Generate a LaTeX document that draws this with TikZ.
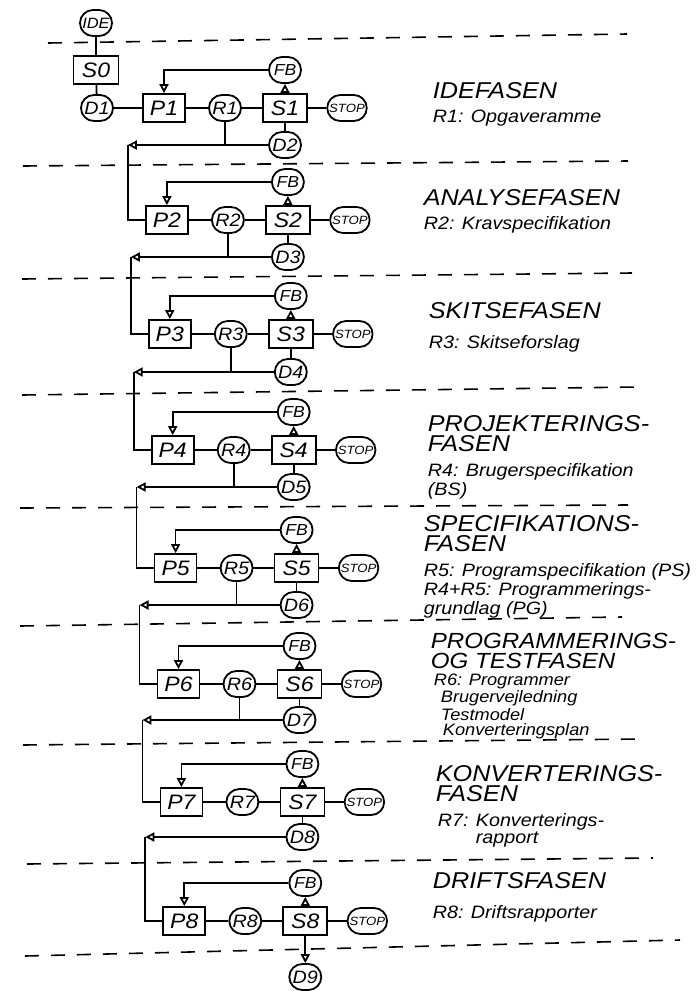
\documentclass[tikz,border=0pt]{standalone}
\usepackage{fontspec}
\setmainfont{Liberation Sans}[FakeStretch=1.1]
\usetikzlibrary{arrows.meta}

\begin{document}
\begin{tikzpicture}[x=0.5bp, y=-0.5bp, line width=0.9pt,
    >={Triangle[open,length=4.5bp,width=4.5bp]},
    box/.style={draw, minimum width=21bp, minimum height=14bp, inner sep=1pt, font=\fontsize{10.5}{12}\selectfont\itshape},
    roundnode/.style={draw, rounded corners=6.5bp, minimum width=16bp, minimum height=13bp, inner sep=1pt, font=\fontsize{9}{10}\selectfont\itshape},
    stopnode/.style={roundnode, minimum width=18.5bp, font=\fontsize{6}{7}\selectfont\itshape},
    phase/.style={anchor=north west, inner sep=0pt, align=left, font=\fontsize{11.5}{10}\selectfont\itshape},
    result/.style={anchor=north west, inner sep=0pt, align=left, font=\fontsize{9}{8.3}\selectfont\itshape},
    divider/.style={line width=0.8pt, dash pattern=on 7bp off 6bp}]
  \useasboundingbox (0,0) rectangle (699,991);

  % Dividers between the phases
  \foreach \xa/\ya/\xb/\yb in {48/43/627/34, 23/166/628/161, 22/279/632/273, 22/395/637/387,
      20/508/628/505, 20/626/622/617, 23/745/643/739, 27/864/653/858, 25/956/680/940}
    \draw[divider] (\xa,\ya) -- (\xb,\yb);

  % Start
  \node[roundnode, font=\fontsize{7.5}{8}\selectfont\itshape] (IDE) at (96,23) {IDE};
  \node[box, minimum width=22.5bp] (S0) at (96,70) {S0};
  \node[roundnode] (D1) at (97,108) {D1};

  % One row per phase
  \foreach \i/\y/\dy in {1/108/145, 2/220/257, 3/334/372, 4/450/487, 5/568/605, 6/684/720, 7/802/837, 8/921/977} {
    \pgfmathsetmacro\sx{285+2.9*(\i-1)}
    \pgfmathtruncatemacro\j{\i+1}
    \node[box] (P\i) at (\sx-121,\y) {P\i};
    \node[roundnode] (R\i) at (\sx-60,\y) {R\i};
    \node[box, minimum width=22bp] (S\i) at (\sx,\y) {S\i};
    \node[stopnode] (STOP\i) at (\sx+62,\y) {STOP};
    \node[roundnode, font=\fontsize{8}{9}\selectfont\itshape] (FB\i) at (\sx,\y-38) {FB};
    \node[roundnode] (D\j) at (\sx,\dy) {D\j};
    \draw (P\i) -- (R\i) -- (S\i) -- (STOP\i);
    \draw[->] (S\i) -- (FB\i);
    \draw[->] (FB\i) -| (P\i);
  }

  \draw (IDE) -- (S0) -- (D1) -- (P1);

  % Hand-over to the next phase
  \foreach \i in {1,...,7} {
    \pgfmathtruncatemacro\j{\i+1}
    \pgfmathsetmacro\cx{285+2.9*\i-160}
    \coordinate (C\j) at (\cx,0 |- D\j);
    \draw (S\i) -- (D\j);
    \draw[->] (D\j) -- (C\j);
    \draw (C\j) |- (P\j);
  }
  \foreach \i in {1,...,6} {
    \pgfmathtruncatemacro\j{\i+1}
    \draw (R\i) -- (R\i |- D\j);
  }
  \draw[->] (S8) -- (D9);

  % Phase names and results
  \node[phase] (ph1) at (432,82) {IDEFASEN};
  \node[result] (re1) at (432,109) {R1: Opgaveramme};
  \node[phase] (ph2) at (423,189) {ANALYSEFASEN};
  \node[result] (re2) at (423,216) {R2: Kravspecifikation};
  \node[phase] (ph3) at (428,302) {SKITSEFASEN};
  \node[result] (re3) at (428,335) {R3: Skitseforslag};
  \node[phase] (ph4) at (427,415) {PROJEKTERINGS-\\FASEN};
  \node[result] (re4) at (427,463) {R4: Brugerspecifikation\\(BS)};
  \node[phase] (ph5) at (423,515) {SPECIFIKATIONS-\\FASEN};
  \node[result] (re5) at (423,563) {R5: Programspecifikation (PS)\\R4+R5: Programmerings-\\grundlag (PG)};
  \node[phase, font=\fontsize{11}{10}\selectfont\itshape] (ph6) at (430,632) {PROGRAMMERINGS-\\OG TESTFASEN};
  \node[result, font=\fontsize{8.3}{7.4}\selectfont\itshape] (re6) at (433,673) {R6: Programmer\\\hspace*{3.5bp}Brugervejledning\\\hspace*{3.5bp}Testmodel\\\hspace*{4.5bp}Konverteringsplan};
  \node[phase] (ph7) at (435,765) {KONVERTERINGS-\\FASEN};
  \node[result] (re7) at (437,813) {R7: Konverterings-\\\phantom{R7: }rapport};
  \node[phase] (ph8) at (432,872) {DRIFTSFASEN};
  \node[result] (re8) at (432,905) {R8: Driftsrapporter};
\end{tikzpicture}
\end{document}
